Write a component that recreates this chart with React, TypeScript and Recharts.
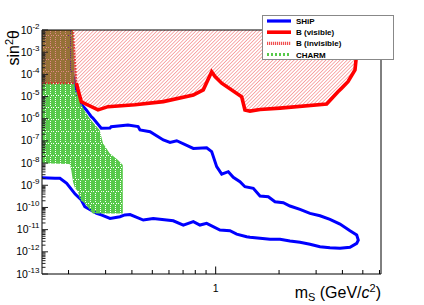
import React from "react";
import { ComposedChart, Line, Area, XAxis, YAxis, ReferenceArea, Legend } from "recharts";

// x: scalar mass m_S (GeV/c^2), y: sin^2(theta)
const xTicks = [0.2, 0.3, 0.4, 0.5, 0.6, 0.7, 0.8, 0.9, 1, 2, 3, 4, 5, 6];
const xTickLabels: Record<number, string> = { 1: "1" };
const yDecades = [-13, -12, -11, -10, -9, -8, -7, -6, -5, -4, -3, -2];
const yMinorSteps = [1, 2, 3, 4, 5, 6, 7, 8, 9];

const shipContour = [
  { m: 0.202, s: 1e-2 }, { m: 0.203, s: 3.3e-4 }, { m: 0.214, s: 4e-5 }, { m: 0.222, s: 9.8e-6 },
  { m: 0.227, s: 5.1e-6 }, { m: 0.243, s: 2.5e-6 }, { m: 0.2565, s: 1.23e-6 }, { m: 0.261, s: 1.08e-6 },
  { m: 0.286, s: 3.7e-7 }, { m: 0.315, s: 3.8e-7 }, { m: 0.319, s: 4.4e-7 }, { m: 0.383, s: 5.2e-7 },
  { m: 0.428, s: 4.4e-7 }, { m: 0.437, s: 3.1e-7 }, { m: 0.488, s: 2.6e-7 }, { m: 0.564, s: 1.1e-7 },
  { m: 0.607, s: 8.6e-8 }, { m: 0.653, s: 1.02e-7 }, { m: 0.783, s: 4.6e-8 }, { m: 0.906, s: 4.9e-8 },
  { m: 0.957, s: 3.3e-8 }, { m: 1.011, s: 6.9e-9 }, { m: 1.068, s: 3.2e-9 }, { m: 1.148, s: 4.1e-9 },
  { m: 1.212, s: 2.3e-9 }, { m: 1.304, s: 1.45e-9 }, { m: 1.377, s: 8.6e-10 }, { m: 1.509, s: 7.3e-10 },
  { m: 1.624, s: 3.3e-10 }, { m: 1.778, s: 3.05e-10 }, { m: 1.913, s: 1.82e-10 }, { m: 2.095, s: 1.64e-10 },
  { m: 2.254, s: 1.16e-10 }, { m: 2.515, s: 8.2e-11 }, { m: 2.805, s: 5.4e-11 }, { m: 3.13, s: 4.2e-11 },
  { m: 3.49, s: 2.9e-11 }, { m: 3.895, s: 1.79e-11 }, { m: 4.345, s: 8.9e-12 }, { m: 4.677, s: 5.7e-12 },
  { m: 4.758, s: 3.4e-12 }, { m: 4.677, s: 2.4e-12 }, { m: 4.345, s: 1.6e-12 }, { m: 3.895, s: 1.44e-12 },
  { m: 3.49, s: 1.53e-12 }, { m: 3.13, s: 1.7e-12 }, { m: 2.805, s: 2.2e-12 }, { m: 2.515, s: 2.7e-12 },
  { m: 2.254, s: 3.1e-12 }, { m: 2.021, s: 3.7e-12 }, { m: 1.811, s: 3.7e-12 }, { m: 1.624, s: 4.1e-12 },
  { m: 1.455, s: 4.5e-12 }, { m: 1.403, s: 4.8e-12 }, { m: 1.258, s: 6.3e-12 }, { m: 1.169, s: 8.9e-12 },
  { m: 1.048, s: 9.6e-12 }, { m: 0.906, s: 1.93e-11 }, { m: 0.842, s: 1.61e-11 }, { m: 0.783, s: 2.3e-11 },
  { m: 0.702, s: 1.61e-11 }, { m: 0.629, s: 2.5e-11 }, { m: 0.505, s: 3.2e-11 }, { m: 0.453, s: 2.7e-11 },
  { m: 0.392, s: 4.8e-11 }, { m: 0.37, s: 4.6e-11 }, { m: 0.351, s: 3.8e-11 }, { m: 0.315, s: 3.2e-11 },
  { m: 0.286, s: 4.6e-11 }, { m: 0.272, s: 5.4e-11 }, { m: 0.239, s: 1.08e-10 }, { m: 0.23, s: 2.16e-10 },
  { m: 0.215, s: 4e-10 }, { m: 0.196, s: 1.22e-9 }, { m: 0.182, s: 2.06e-9 }, { m: 0.1724, s: 2.06e-9 },
  { m: 0.1496, s: 2.2e-9 },
];

const bVisible = [
  { m: 0.218, s: 4e-5 }, { m: 0.222, s: 2.0e-5 }, { m: 0.23, s: 5.8e-6 }, { m: 0.276, s: 2.5e-6 },
  { m: 0.308, s: 3.5e-6 }, { m: 0.414, s: 4.3e-6 }, { m: 0.564, s: 5.9e-6 }, { m: 0.783, s: 1.17e-5 },
  { m: 0.873, s: 2.0e-5 }, { m: 0.957, s: 1.3e-4 }, { m: 0.993, s: 7.9e-5 }, { m: 1.068, s: 4.0e-5 },
  { m: 1.329, s: 9.8e-6 }, { m: 1.377, s: 2.5e-6 }, { m: 1.455, s: 2.2e-6 }, { m: 1.624, s: 2.6e-6 },
  { m: 2.021, s: 3.0e-6 }, { m: 3.367, s: 4.6e-6 }, { m: 3.81, s: 1.65e-5 }, { m: 3.968, s: 2.4e-5 },
  { m: 4.25, s: 4.7e-5 }, { m: 4.59, s: 1.6e-4 }, { m: 4.64, s: 4.4e-4 }, { m: 4.7, s: 1e-2 },
];

const bInvisible = [
  { m: 0.1496, lo: 4e-5, hi: 1e-2 },
  { m: 0.21, lo: 4e-5, hi: 1e-2 },
  { m: 0.218, lo: 4e-5, hi: 4e-5 },
];
const bInvisibleEdge = [
  { m: 0.1496, s: 4e-5 }, { m: 0.218, s: 4e-5 }, { m: 0.21, s: 1e-2 },
];

const charm = [
  { m: 0.1496, lo: 9.8e-9, hi: 1e-2 }, { m: 0.2024, lo: 9.0e-9, hi: 1e-2 },
  { m: 0.206, lo: 4.9e-9, hi: 1e-2 }, { m: 0.21, lo: 1.45e-9, hi: 1e-2 },
  { m: 0.214, lo: 8e-10, hi: 2.4e-5 }, { m: 0.222, lo: 5.1e-10, hi: 1.17e-5 },
  { m: 0.227, lo: 2.16e-10, hi: 6e-6 }, { m: 0.239, lo: 1.54e-10, hi: 2.2e-6 },
  { m: 0.253, lo: 7.7e-11, hi: 1.0e-6 }, { m: 0.261, lo: 5.4e-11, hi: 7e-7 },
  { m: 0.281, lo: 5.4e-11, hi: 3.1e-7 }, { m: 0.2915, lo: 5.4e-11, hi: 7.8e-8 },
  { m: 0.3136, lo: 5.4e-11, hi: 2.8e-8 }, { m: 0.3434, lo: 5.4e-11, hi: 1.38e-8 },
  { m: 0.362, lo: 5.4e-11, hi: 8.2e-9 },
];

const legendLabels = ["SHiP", "B (visible)", "B (invisible)", "CHARM"];

const BLUE = "#0000ff";
const RED = "#ff0000";
const GREEN = "#57c94a";
const FONT = "'Liberation Sans', Arial, Helvetica, sans-serif";
const Y_TOP = 1e-2;

const yTicks = yDecades.flatMap((e) =>
  e === -2 ? [Math.pow(10, e)] : yMinorSteps.map((k) => k * Math.pow(10, e))
);

const isDecade = (v: number) => Math.abs(Math.log10(v) - Math.round(Math.log10(v))) < 1e-9;

const renderXTick = (props: any) => {
  const { x, y, payload } = props;
  const label = xTickLabels[payload.value];
  return (
    <g>
      <line x1={x} x2={x} y1={y} y2={y - (label ? 7.5 : 4)} stroke="#000" strokeWidth={1} />
      {label && (
        <text x={x} y={y + 17.7} textAnchor="middle" fontSize={10.5} fontFamily={FONT} fill="#000">
          {label}
        </text>
      )}
    </g>
  );
};

const renderYTick = (props: any) => {
  const { x, y, payload } = props;
  const major = isDecade(payload.value);
  const exp = Math.round(Math.log10(payload.value));
  return (
    <g>
      <line x1={x} x2={x + (major ? 6 : 3.5)} y1={y} y2={y} stroke="#222" strokeWidth={1} />
      {major && (
        <text x={x - 2.5} y={y + 3.5} textAnchor="end" fontSize={10.5} fontFamily={FONT} fill="#000">
          <tspan>10</tspan>
          <tspan dy={-5} fontSize={8}>{String(exp)}</tspan>
        </text>
      )}
    </g>
  );
};

const renderXTitle = (props: any) => {
  const vb = props.viewBox;
  return (
    <text x={vb.x + vb.width} y={vb.y + 24} textAnchor="end" fontSize={16} fontFamily={FONT} fill="#000">
      m<tspan fontSize={11} dy={3}>S</tspan>
      <tspan dy={-3}> (GeV/</tspan>
      <tspan fontStyle="italic">c</tspan>
      <tspan fontSize={11} dy={-6}>2</tspan>
      <tspan dy={6}>)</tspan>
    </text>
  );
};

const renderYTitle = (props: any) => {
  const vb = props.viewBox;
  const tx = vb.x + 19;
  const ty = vb.y;
  return (
    <text x={tx} y={ty} textAnchor="end" fontSize={16} fontFamily={FONT} fill="#000" transform={`rotate(-90 ${tx} ${ty})`}>
      sin<tspan fontSize={11} dy={-6}>2</tspan>
      <tspan dy={6}>θ</tspan>
    </text>
  );
};

const legendSymbols = [
  { stroke: BLUE, width: 3.2, dash: undefined },
  { stroke: RED, width: 3.6, dash: undefined },
  { stroke: "#f05050", width: 3.2, dash: "1.2 0.8" },
  { stroke: GREEN, width: 3, dash: "2 2" },
];

const renderLegend = () => (
  <div style={{ width: 132, height: 45, border: "1px solid #888", background: "#fff", boxSizing: "border-box" }}>
    <svg width={130} height={43} style={{ display: "block" }}>
      {legendLabels.map((label, i) => {
        const cy = 5 + i * 11.2;
        const sym = legendSymbols[i];
        return (
          <g key={label}>
            <line x1={4} x2={28} y1={cy} y2={cy} stroke={sym.stroke} strokeWidth={sym.width} strokeDasharray={sym.dash} />
            <text x={33} y={cy + 3} fontSize={8} fontWeight="bold" fontFamily={FONT} fill="#000">
              {label}
            </text>
          </g>
        );
      })}
    </svg>
  </div>
);

export default function App() {
  return (
    <div style={{ position: "absolute", left: 0, top: 0, width: 424, height: 305, background: "#fff" }}>
      <ComposedChart width={424} height={305} margin={{ top: 30, right: 43, bottom: 0, left: 0 }}>
        <defs>
          <pattern id="hatch" patternUnits="userSpaceOnUse" width={2.5} height={2.5} patternTransform="rotate(45)">
            <line x1={0} y1={0} x2={0} y2={2.5} stroke="#f04848" strokeWidth={0.9} />
          </pattern>
          <pattern id="charmFill" patternUnits="userSpaceOnUse" width={5} height={12}>
            <rect x={1} y={0} width={4} height={11} fill={GREEN} />
            <line x1={0.5} y1={0} x2={0.5} y2={11} stroke={GREEN} strokeWidth={1} strokeDasharray="1 1" />
            <line x1={0} y1={11.5} x2={5} y2={11.5} stroke={GREEN} strokeWidth={1} strokeDasharray="1 1" />
          </pattern>
        </defs>
        <XAxis
          dataKey="m"
          type="number"
          scale="log"
          domain={[0.1496, 6.1]}
          allowDataOverflow
          ticks={xTicks}
          interval={0}
          tick={renderXTick}
          tickLine={false}
          axisLine={false}
          tickSize={0}
          tickMargin={0}
          height={31}
          label={{ content: renderXTitle }}
        />
        <YAxis
          type="number"
          scale="log"
          domain={[1e-13, Y_TOP]}
          allowDataOverflow
          ticks={yTicks}
          interval={0}
          tick={renderYTick}
          tickLine={false}
          axisLine={false}
          tickSize={0}
          tickMargin={0}
          width={42}
          label={{ content: renderYTitle }}
        />
        <Area
          data={shipContour}
          dataKey="s"
          type="linear"
          stroke={BLUE}
          strokeWidth={3}
          fill="none"
          dot={false}
          activeDot={false}
          isAnimationActive={false}
        />
        <Area
          data={charm}
          dataKey={(d: any) => [d.lo, d.hi]}
          type="linear"
          stroke="none"
          fill="url(#charmFill)"
          fillOpacity={1}
          dot={false}
          activeDot={false}
          isAnimationActive={false}
        />
        <Area
          data={bInvisible}
          dataKey={(d: any) => [d.lo, d.hi]}
          type="linear"
          stroke="none"
          fill="#c82828"
          fillOpacity={0.55}
          dot={false}
          activeDot={false}
          isAnimationActive={false}
        />
        <Area
          data={[{ m: bInvisible[1].m, s: Y_TOP }, ...bVisible]}
          dataKey={(d: any) => [d.s, Y_TOP]}
          type="linear"
          stroke="none"
          fill="url(#hatch)"
          fillOpacity={1}
          dot={false}
          activeDot={false}
          isAnimationActive={false}
        />
        <Line
          data={bInvisibleEdge}
          dataKey="s"
          type="linear"
          stroke="#e02828"
          strokeWidth={2}
          strokeDasharray="1.5 1.5"
          dot={false}
          activeDot={false}
          isAnimationActive={false}
        />
        <Line
          data={bVisible}
          dataKey="s"
          type="linear"
          stroke={RED}
          strokeWidth={3.6}
          dot={false}
          activeDot={false}
          isAnimationActive={false}
        />
        <ReferenceArea x1={0.1496} x2={6.1} y1={1e-13} y2={Y_TOP} fill="none" stroke="#000" strokeWidth={1} ifOverflow="visible" />
        <Legend
          layout="vertical"
          align="center"
          verticalAlign="middle"
          content={renderLegend}
          wrapperStyle={{ left: 262, top: 15, width: 133, height: 46 }}
        />
      </ComposedChart>
    </div>
  );
}
